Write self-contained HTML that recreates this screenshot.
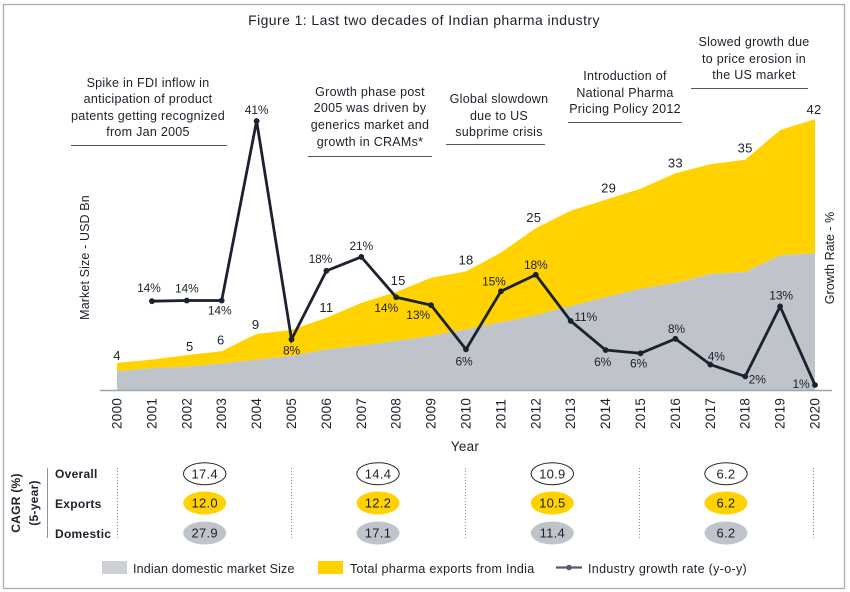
<!DOCTYPE html>
<html lang="en">
<head>
<meta charset="utf-8">
<title>Figure 1: Last two decades of Indian pharma industry</title>
<style>
html,body{margin:0;padding:0;background:#fff;width:850px;height:592px;overflow:hidden}
svg{display:block}
text{font-family:"Liberation Sans",sans-serif;fill:#1d1f2b;font-size:12.5px;letter-spacing:.28px}
.m{text-anchor:middle}
.rule{stroke:#4f5763;stroke-width:1}
.dot{stroke:#8d9196;stroke-width:1;stroke-dasharray:1 2}
.row{font-weight:bold;font-size:12px}
.tick{font-size:13.5px}
.mk{font-size:13px}
.gr{font-size:12px;letter-spacing:-.15px}
</style>
</head>
<body>
<svg id="chart" width="850" height="592" viewBox="0 0 850 592" xmlns="http://www.w3.org/2000/svg">
  <rect x="3.5" y="4.5" width="841" height="584" fill="#fff" stroke="#a9adb3" stroke-width="1.3"/>
  <text class="m" x="424" y="25" style="font-size:14px;letter-spacing:.42px">Figure 1: Last two decades of Indian pharma industry</text>

  <g id="areas"></g>
  <line x1="100" y1="390.5" x2="832" y2="390.5" stroke="#a0a4a9" stroke-width="1.4"/>
  <g id="year-ticks"></g>
  <g id="market-labels"></g>
  <g id="growth"></g>
  <g id="growth-labels"></g>

  <text class="m" x="465" y="451" style="font-size:13.5px">Year</text>
  <text class="m" transform="translate(89,257.5) rotate(-90)" style="letter-spacing:.12px">Market Size - USD Bn</text>
  <text class="m" transform="translate(834,258) rotate(-90)" style="letter-spacing:0">Growth Rate - %</text>

  <g>
    <text class="m" x="148" y="87">Spike in FDI inflow in</text>
    <text class="m" x="148" y="103">anticipation of product</text>
    <text class="m" x="148" y="120">patents getting recognized</text>
    <text class="m" x="148" y="136">from Jan 2005</text>
    <line class="rule" x1="71" y1="145.5" x2="227" y2="145.5"/>
  </g>
  <g>
    <text class="m" x="370" y="96">Growth phase post</text>
    <text class="m" x="370" y="112">2005 was driven by</text>
    <text class="m" x="370" y="129">generics market and</text>
    <text class="m" x="370" y="146">growth in CRAMs*</text>
    <line class="rule" x1="308" y1="156.5" x2="432" y2="156.5"/>
  </g>
  <g>
    <text class="m" x="499" y="103">Global slowdown</text>
    <text class="m" x="499" y="120">due to US</text>
    <text class="m" x="499" y="136">subprime crisis</text>
    <line class="rule" x1="446" y1="144.5" x2="545" y2="144.5"/>
  </g>
  <g>
    <text class="m" x="625" y="80">Introduction of</text>
    <text class="m" x="625" y="97">National Pharma</text>
    <text class="m" x="625" y="113">Pricing Policy 2012</text>
    <line class="rule" x1="568" y1="122.5" x2="682" y2="122.5"/>
  </g>
  <g>
    <text class="m" x="754" y="46">Slowed growth due</text>
    <text class="m" x="754" y="63">to price erosion in</text>
    <text class="m" x="754" y="79">the US market</text>
    <line class="rule" x1="691" y1="88.5" x2="808" y2="88.5"/>
  </g>

  <g>
    <text class="m" transform="translate(20,503) rotate(-90)" style="font-weight:bold;font-size:12px">CAGR (%)</text>
    <text class="m" transform="translate(38,503) rotate(-90)" style="font-weight:bold;font-size:12px">(5-year)</text>
    <line x1="47.5" y1="468" x2="47.5" y2="538" stroke="#8d9196" stroke-width="1"/>
    <text class="row" x="55" y="478">Overall</text>
    <text class="row" x="55" y="508">Exports</text>
    <text class="row" x="55" y="538">Domestic</text>
    <line class="dot" x1="117.5" y1="468" x2="117.5" y2="538"/>
    <line class="dot" x1="291.5" y1="468" x2="291.5" y2="538"/>
    <line class="dot" x1="465.5" y1="468" x2="465.5" y2="538"/>
    <line class="dot" x1="639.5" y1="468" x2="639.5" y2="538"/>
    <line class="dot" x1="813.5" y1="468" x2="813.5" y2="538"/>

    <g>
      <ellipse cx="204.7" cy="473.7" rx="21.2" ry="11" fill="#fff" stroke="#23242e" stroke-width="1"/><text class="m" x="204.7" y="478.3" style="font-size:13px">17.4</text>
      <ellipse cx="204.7" cy="503" rx="21.5" ry="11.5" fill="#ffd200"/><text class="m" x="204.7" y="507.6" style="font-size:13px">12.0</text>
      <ellipse cx="204.7" cy="533" rx="21.5" ry="11.5" fill="#bec4ca"/><text class="m" x="204.7" y="537.6" style="font-size:13px">27.9</text>
    </g>
    <g>
      <ellipse cx="378" cy="473.7" rx="21.2" ry="11" fill="#fff" stroke="#23242e" stroke-width="1"/><text class="m" x="378" y="478.3" style="font-size:13px">14.4</text>
      <ellipse cx="378" cy="503" rx="21.5" ry="11.5" fill="#ffd200"/><text class="m" x="378" y="507.6" style="font-size:13px">12.2</text>
      <ellipse cx="378" cy="533" rx="21.5" ry="11.5" fill="#bec4ca"/><text class="m" x="378" y="537.6" style="font-size:13px">17.1</text>
    </g>
    <g>
      <ellipse cx="552.3" cy="473.7" rx="21.2" ry="11" fill="#fff" stroke="#23242e" stroke-width="1"/><text class="m" x="552.3" y="478.3" style="font-size:13px">10.9</text>
      <ellipse cx="552.3" cy="503" rx="21.5" ry="11.5" fill="#ffd200"/><text class="m" x="552.3" y="507.6" style="font-size:13px">10.5</text>
      <ellipse cx="552.3" cy="533" rx="21.5" ry="11.5" fill="#bec4ca"/><text class="m" x="552.3" y="537.6" style="font-size:13px">11.4</text>
    </g>
    <g>
      <ellipse cx="726" cy="473.7" rx="21.2" ry="11" fill="#fff" stroke="#23242e" stroke-width="1"/><text class="m" x="726" y="478.3" style="font-size:13px">6.2</text>
      <ellipse cx="726" cy="503" rx="21.5" ry="11.5" fill="#ffd200"/><text class="m" x="726" y="507.6" style="font-size:13px">6.2</text>
      <ellipse cx="726" cy="533" rx="21.5" ry="11.5" fill="#bec4ca"/><text class="m" x="726" y="537.6" style="font-size:13px">6.2</text>
    </g>
  </g>

  <g>
    <g>
      <rect x="102" y="561" width="25" height="13" fill="#ccd0d4"/>
      <text x="133" y="573" style="letter-spacing:.17px">Indian domestic market Size</text>
    </g>
    <g>
      <rect x="318" y="561" width="25" height="13" fill="#ffd200"/>
      <text x="350" y="573">Total pharma exports from India</text>
    </g>
    <g>
      <line x1="556" y1="567.5" x2="582" y2="567.5" stroke="#555d68" stroke-width="2.2"/>
      <circle cx="569" cy="567.5" r="2.8" fill="#555d68"/>
      <text x="588" y="573" style="letter-spacing:.32px">Industry growth rate (y-o-y)</text>
    </g>
  </g>
</svg>

<script>
// Chart data
const years = [2000,2001,2002,2003,2004,2005,2006,2007,2008,2009,2010,2011,2012,2013,2014,2015,2016,2017,2018,2019,2020];
const domesticMarket = [2.9,3.4,3.6,4.1,4.7,5.3,6.3,6.9,7.6,8.4,9.4,10.5,11.6,13.0,14.4,15.7,16.6,18.0,18.3,20.9,21.2];
const pharmaExports = [1.3,1.3,1.8,1.9,4.0,4.0,4.9,6.6,7.6,9.0,9.0,10.8,13.5,14.8,15.1,15.5,17.0,17.0,17.4,19.4,20.8];
const growthYears = [2001,2002,2003,2004,2005,2006,2007,2008,2009,2010,2011,2012,2013,2014,2015,2016,2017,2018,2019,2020];
const growthRate = [13.7,13.8,13.8,41,7.9,18.3,20.4,14.3,13.1,6.4,15.2,17.7,10.7,6.3,5.8,8.0,4.1,2.3,12.9,1.0];
const growthLabels = ['14%','14%','14%','41%','8%','18%','21%','14%','13%','6%','15%','18%','11%','6%','6%','8%','4%','2%','13%','1%'];
const marketLabelYears = [2000,2002,2003,2004,2006,2008,2010,2012,2014,2016,2018,2020];
const marketLabels = ['4','5','6','9','11','15','18','25','29','33','35','42'];

// Label nudges, by year (layout only)
const marketNudge = {2000:[0,-3],2002:[3,-4],2003:[-1,-7],2004:[-1,-5],2006:[0,-6],2008:[2,-7],2010:[0,-7],2012:[-2,-6],2014:[3,-7],2016:[0,-6],2018:[0,-7],2020:[-1,-5]};
const growthNudge = {2001:[-3,-9],2002:[0,-8],2003:[-2,14],2004:[0,-7],2005:[0,15],2006:[-6,-8],2007:[0,-7],2008:[-10,15],2009:[-13,14],2010:[-2,16],2011:[-7,-6],2012:[0,-6],2013:[15,0],2014:[-3,16],2015:[-2,14],2016:[1,-6],2017:[6,-4],2018:[12,7],2019:[1,-7],2020:[-14,3]};

const NS = 'http://www.w3.org/2000/svg';
const xScale = year => 117 + (year - 2000) * 34.9;
const yMarket = value => 390 - value * 6.45;
const yGrowth = value => 391.6 - value * 6.6;

function make(tag, attrs, parent) {
  const el = document.createElementNS(NS, tag);
  for (const key in attrs) el.setAttribute(key, attrs[key]);
  parent.appendChild(el);
  return el;
}

const stackedTop = years.map((_, i) => domesticMarket[i] + pharmaExports[i]);
const domesticPts = years.map((yr, i) => xScale(yr) + ',' + yMarket(domesticMarket[i]));
const totalPts = years.map((yr, i) => xScale(yr) + ',' + yMarket(stackedTop[i]));
const baseLeft = xScale(years[0]) + ',' + yMarket(0);
const baseRight = xScale(years[years.length - 1]) + ',' + yMarket(0);

const areaGroup = document.getElementById('areas');
const exportsArea = make('polygon', {points: totalPts.concat(domesticPts.slice().reverse()).join(' '), fill: '#ffd200'}, areaGroup);


const domesticArea = make('polygon', {points: [baseLeft].concat(domesticPts, [baseRight]).join(' '), fill: '#bec4ca'}, areaGroup);



const tickGroup = document.getElementById('year-ticks');
years.forEach(yr => {
  const tick = make('text', {class: 'tick', transform: 'translate(' + (xScale(yr) + 4.5) + ',429) rotate(-90)'}, tickGroup);
  
  
  tick.textContent = yr;
});

const marketGroup = document.getElementById('market-labels');
marketLabelYears.forEach((yr, i) => {
  const nudge = marketNudge[yr];
  const idx = years.indexOf(yr);
  const label = make('text', {class: 'm mk', x: xScale(yr) + nudge[0], y: yMarket(stackedTop[idx]) + nudge[1]}, marketGroup);
  
  
  label.textContent = marketLabels[i];
});

const growthGroup = document.getElementById('growth');
const growthLine = make('polyline', {
  points: growthYears.map((yr, i) => xScale(yr) + ',' + yGrowth(growthRate[i])).join(' '),
  fill: 'none', stroke: '#1a2130', 'stroke-width': 2.8, 'stroke-linejoin': 'miter'
}, growthGroup);



const growthLabelGroup = document.getElementById('growth-labels');
growthYears.forEach((yr, i) => {
  const point = make('circle', {cx: xScale(yr), cy: yGrowth(growthRate[i]), r: 2.9, fill: '#1a2130'}, growthGroup);
  
  
  const nudge = growthNudge[yr];
  const label = make('text', {class: 'm gr', x: xScale(yr) + nudge[0], y: yGrowth(growthRate[i]) + nudge[1]}, growthLabelGroup);
  
  
  label.textContent = growthLabels[i];
});
</script>
</body>
</html>
